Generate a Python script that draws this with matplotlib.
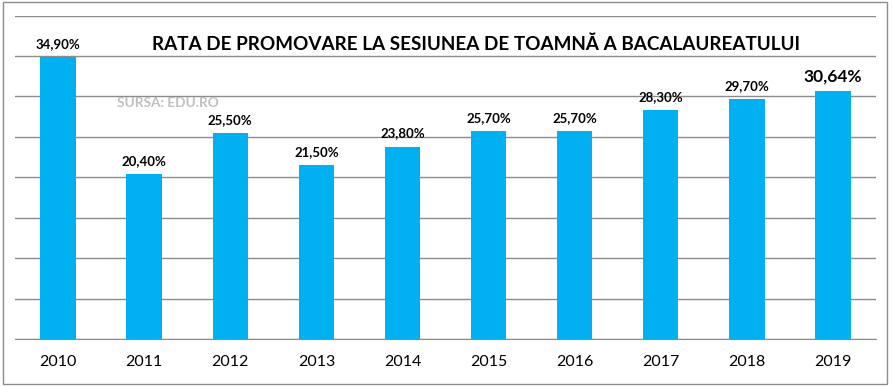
import numpy as np
import matplotlib.pyplot as plt
from matplotlib.patches import Rectangle

years = ['2010', '2011', '2012', '2013', '2014', '2015', '2016', '2017', '2018', '2019']
rates = [34.90, 20.40, 25.50, 21.50, 23.80, 25.70, 25.70, 28.30, 29.70, 30.64]
labels = ['34,90%', '20,40%', '25,50%', '21,50%', '23,80%', '25,70%', '25,70%',
          '28,30%', '29,70%', '30,64%']

plt.rcParams['font.family'] = ['Lato', 'DejaVu Sans']

W, H = 893, 386
fig = plt.figure(figsize=(W / 100, H / 100), dpi=100)
ax = fig.add_axes([15 / W, 1 - 339 / H, (876 - 15) / W, (339 - 15.5) / H])

x = np.arange(len(years))
ax.bar(x, rates, width=0.41, color='#00B0F0', zorder=3)

ax.set_ylim(0, 40)
ax.set_xlim(-0.5, len(years) - 0.5)
ax.set_yticks(np.arange(0, 41, 5))
ax.yaxis.grid(True, color='#8c8c8c', linewidth=1)
ax.tick_params(axis='y', left=False, labelleft=False)
ax.tick_params(axis='x', bottom=False, labelsize=11.5, pad=8)
ax.set_xticks(x)
ax.set_xticklabels(years)
for s in ['top', 'left', 'right']:
    ax.spines[s].set_visible(False)
ax.spines['bottom'].set_color('#8c8c8c')

for i, (v, lab) in enumerate(zip(rates, labels)):
    if i == len(rates) - 1:
        ax.annotate(lab, (i, v), xytext=(0, 5), textcoords='offset points',
                    ha='center', va='bottom', fontsize=12.5, fontweight='bold')
    else:
        ax.annotate(lab, (i, v), xytext=(0, 5), textcoords='offset points',
                    ha='center', va='bottom', fontsize=9.5, fontweight='bold')

fig.text(476 / W, 1 - 44 / H, 'RATA DE PROMOVARE LA SESIUNEA DE TOAMNĂ A BACALAUREATULUI',
         ha='center', va='center', fontsize=13.6, fontweight='bold')
fig.text(117 / W, 1 - 103 / H, 'SURSA: EDU.RO', ha='left', va='center',
         fontsize=9.8, color='#bfbfbf', fontweight='bold', zorder=10)

fig.patches.append(Rectangle((3 / W, 1 - 384 / H), (887 - 3) / W, (384 - 2) / H,
                             transform=fig.transFigure, fill=False,
                             edgecolor='#8c8c8c', linewidth=1))

fig.savefig('out.png', dpi=100)
